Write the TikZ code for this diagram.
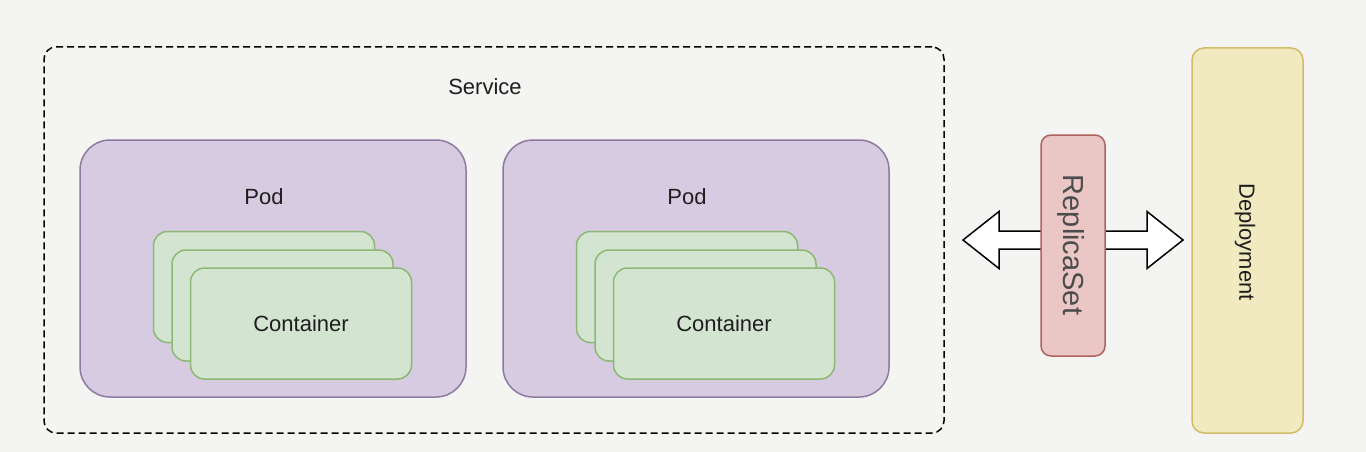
\documentclass[tikz,border=0pt]{standalone}
\usepackage{fontspec}
\setmainfont{Liberation Sans}
\usetikzlibrary{calc}
\definecolor{bgcol}{HTML}{F4F5F2}
\definecolor{podfill}{HTML}{D6CBE0}
\definecolor{podline}{HTML}{8F7AA1}
\definecolor{ctrfill}{HTML}{D3E5D0}
\definecolor{ctrline}{HTML}{8CB874}
\definecolor{rsfill}{HTML}{EAC6C4}
\definecolor{rsline}{HTML}{B0625E}
\definecolor{depfill}{HTML}{F1E9C0}
\definecolor{depline}{HTML}{D2BB66}
\definecolor{txt}{HTML}{1E1E1E}

\begin{document}
\begin{tikzpicture}[x=1pt,y=-1pt,
        font=\fontsize{22}{26}\selectfont, text=txt,
        box/.style={line width=1.5pt,inner sep=0pt,outer sep=0pt},
        pod/.style={box,draw=podline,fill=podfill,rounded corners=30pt,minimum width=386pt,minimum height=257pt},
        ctr/.style={box,draw=ctrline,fill=ctrfill,rounded corners=14pt,minimum width=221pt,minimum height=111pt}]
            \useasboundingbox[fill=bgcol] (0,0) rectangle (1366,452);

            % service
            \node[box,draw,dash pattern=on 7pt off 4pt,rounded corners=12pt,minimum width=900pt,minimum height=386pt] (svc) at (494,240) {};
            \node (svclbl) at (485,87) {Service};

            % pods
            \node[pod] (poda) at (273,268.5) {};
            \node (podalbl) at (264,197) {Pod};
            \node[ctr] (ca1) at (264,287) {};
            \node[ctr] (ca2) at (282.5,305.5) {};
            \node[ctr] (ca3) at (301,323.5) {Container};

            \node[pod] (podb) at (696,268.5) {};
            \node (podblbl) at (687,197) {Pod};
            \node[ctr] (cb1) at (687,287) {};
            \node[ctr] (cb2) at (705.5,305.5) {};
            \node[ctr] (cb3) at (724,323.5) {Container};

            % double arrow
            \coordinate (l) at (963,240);
            \coordinate (r) at (1183,240);
            \draw[line width=1.5pt,fill=white,line join=miter] (l) -- ($(l)+(36,-28.5)$) -- ($(l)+(36,-9)$) -- ($(r)+(-36,-9)$)
                -- ($(r)+(-36,-28.5)$) -- (r) -- ($(r)+(-36,28.5)$) -- ($(r)+(-36,9)$) -- ($(l)+(36,9)$)
                -- ($(l)+(36,28.5)$) -- cycle;

            \node[box,draw=rsline,fill=rsfill,rounded corners=10pt,minimum width=64pt,minimum height=221pt] (rs) at (1073,245.5) {};
            \node[rotate=-90,text=black!70,font=\fontsize{29}{34}\selectfont] (rslbl) at (1071,245) {ReplicaSet};

            \node[box,draw=depline,fill=depfill,rounded corners=12pt,minimum width=111pt,minimum height=385pt] (dep) at (1247.5,240.5) {};
            \node[rotate=-90] (deplbl) at (1245,242) {Deployment};
        \end{tikzpicture}
\end{document}
